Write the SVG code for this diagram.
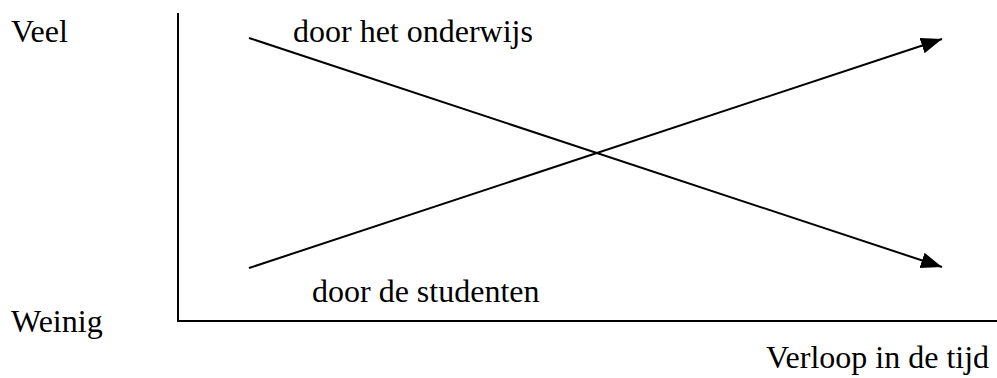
<svg xmlns="http://www.w3.org/2000/svg" width="997" height="378" viewBox="0 0 997 378">
<style>
text{font-family:"Liberation Serif","Times New Roman",serif;font-size:32px;fill:#000}
.ax{stroke:#000;stroke-width:2;fill:none}
.ln{stroke:#000;stroke-width:2;fill:none}
</style>
<defs>
<marker id="ah" markerUnits="userSpaceOnUse" markerWidth="24" markerHeight="18" refX="21" refY="8" orient="auto">
<path d="M0,0 L21,8 L0,16 Z" fill="#000"/>
</marker>
</defs>
<rect width="997" height="378" fill="#fff"/>
<g id="axes">
<line class="ax" x1="178" y1="13" x2="178" y2="321"/>
<line class="ax" x1="177" y1="321" x2="997" y2="321"/>
</g>
<g id="connectors">
<line class="ln" x1="249" y1="38" x2="942" y2="267" marker-end="url(#ah)"/>
<line class="ln" x1="249" y1="268" x2="942" y2="39" marker-end="url(#ah)"/>
</g>
<g id="label-veel"><text x="11" y="42">Veel</text></g>
<g id="label-weinig"><text x="11" y="332">Weinig</text></g>
<g id="label-onderwijs"><text x="293" y="42">door het onderwijs</text></g>
<g id="label-studenten"><text x="312" y="302">door de studenten</text></g>
<g id="label-tijd"><text x="766" y="368">Verloop in de tijd</text></g>
</svg>
